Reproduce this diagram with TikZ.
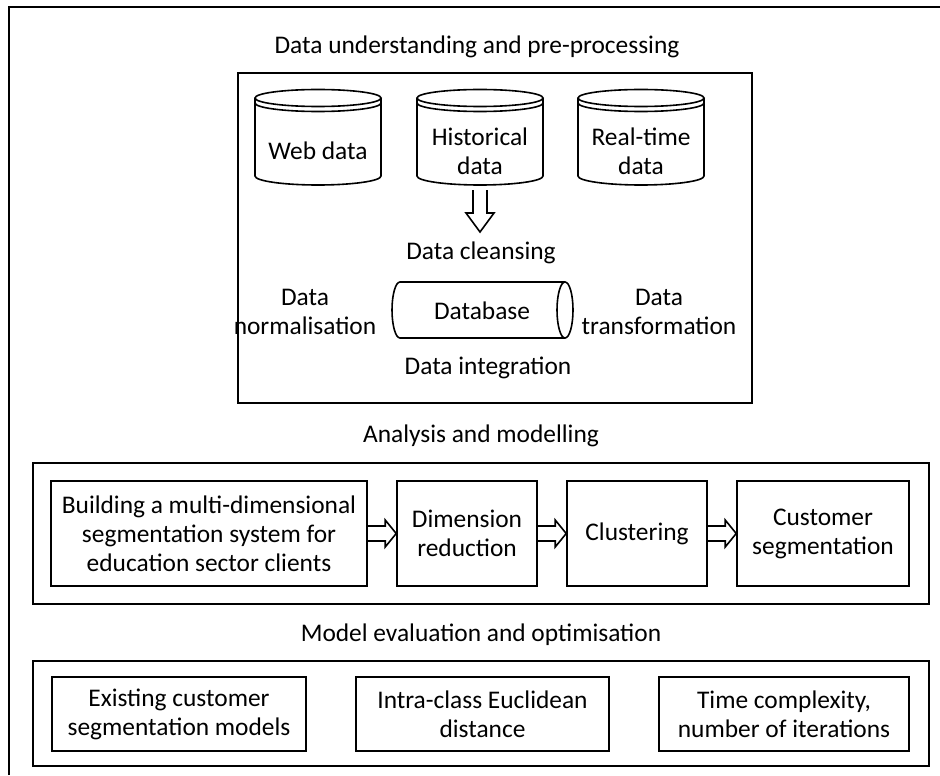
\documentclass[tikz,border=0pt]{standalone}
\usepackage{fontspec}
\setmainfont{Carlito}
\usetikzlibrary{calc}

\tikzset{
	frame/.style={line width=1.2pt},
	panel/.style={line width=0.9pt},
	stage/.style={draw, line width=0.8pt, align=center, inner sep=0pt},
	lbl/.style={align=center, inner sep=0pt},
	hollow/.style={line width=0.8pt, line join=miter},
	drum/.pic={
		\draw[line width=0.8pt] (0,-53) ellipse[x radius=63, y radius=8.5];
		\draw[line width=0.8pt] (-63,-48) arc[start angle=180, end angle=0, x radius=63, y radius=8.5];
		\draw[line width=0.8pt] (-63,-53) -- (-63,25) arc[start angle=180, end angle=0, x radius=63, y radius=9] -- (63,-53);
		\node[lbl] (-txt) at (0,0) {#1};
	}
}

\begin{document}
\begin{tikzpicture}[x=0.5pt, y=-0.5pt, font=\fontsize{12.7}{14.5}\selectfont]
	
	\useasboundingbox (0,0) rectangle (940,775);
	\draw[frame] (9,775) -- (9,7) -- (940,7);
	
	% data understanding
	\node[lbl] (title1) at (477,47) {Data understanding and pre-processing};
	\draw[panel] (238,73) rectangle (752,403);
	
	\pic (web) at (318,151) {drum={Web data}};
	\pic (hist) at (480,151) {drum={Historical\\data}};
	\pic (real) at (641,151) {drum={Real-time\\data}};
	
	\draw[hollow] ($(hist-txt)+(-7,39)$) -- ($(hist-txt)+(-7,62)$) -- ($(hist-txt)+(-14,62)$)
		-- ($(hist-txt)+(0,81)$) -- ($(hist-txt)+(14,62)$) -- ($(hist-txt)+(7,62)$) -- ($(hist-txt)+(7,39)$);
	
	\node[lbl] (clean) at (481,253) {Data cleansing};
	\node[lbl] (db) at (482,311) {Database};
	\draw[line width=0.8pt] (565,282) -- (400,282) arc[start angle=270, end angle=90, x radius=8, y radius=28] -- (565,338);
	\draw[line width=0.8pt] (565,310) ellipse[x radius=8, y radius=28];
	\node[lbl] (norm) at (305,312) {Data\\normalisation};
	\node[lbl] (trans) at (659,312) {Data\\transformation};
	\node[lbl] (integ) at (488,368) {Data integration};
	
	% analysis
	\node[lbl] (title2) at (481,436) {Analysis and modelling};
	\draw[panel] (33,463) rectangle (929,604);
	
	\node[stage, minimum width=158pt, minimum height=52.5pt] (build) at (209,533.5) {Building a multi-dimensional\\segmentation system for\\education sector clients};
	\node[stage, minimum width=70pt, minimum height=52.5pt] (dimred) at (467,533.5) {Dimension\\reduction};
	\node[stage, minimum width=70pt, minimum height=52.5pt] (clust) at (637,533.5) {Clustering};
	\node[stage, minimum width=86pt, minimum height=52.5pt] (custseg) at (823,533.5) {Customer\\segmentation};
	
	\foreach \a/\b in {build/dimred, dimred/clust, clust/custseg}
		\draw[hollow] ($(\a.east)+(0,-7.5)$) -- ($(\b.west)+(-11,-7.5)$) -- ($(\b.west)+(-11,-13.5)$)
			-- (\b.west) -- ($(\b.west)+(-11,13.5)$) -- ($(\b.west)+(-11,7.5)$) -- ($(\a.east)+(0,7.5)$);
	
	% evaluation
	\node[lbl] (title3) at (481,635) {Model evaluation and optimisation};
	\draw[panel] (33,661) rectangle (929,766);
	
	\node[stage, minimum width=127pt, minimum height=37pt] (exist) at (179,714) {Existing customer\\segmentation models};
	\node[stage, minimum width=126.5pt, minimum height=37pt] (intra) at (482.5,714) {Intra-class Euclidean\\distance};
	\node[stage, minimum width=125pt, minimum height=37pt] (tcomp) at (784,714) {Time complexity,\\number of iterations};
	
\end{tikzpicture}
\end{document}
